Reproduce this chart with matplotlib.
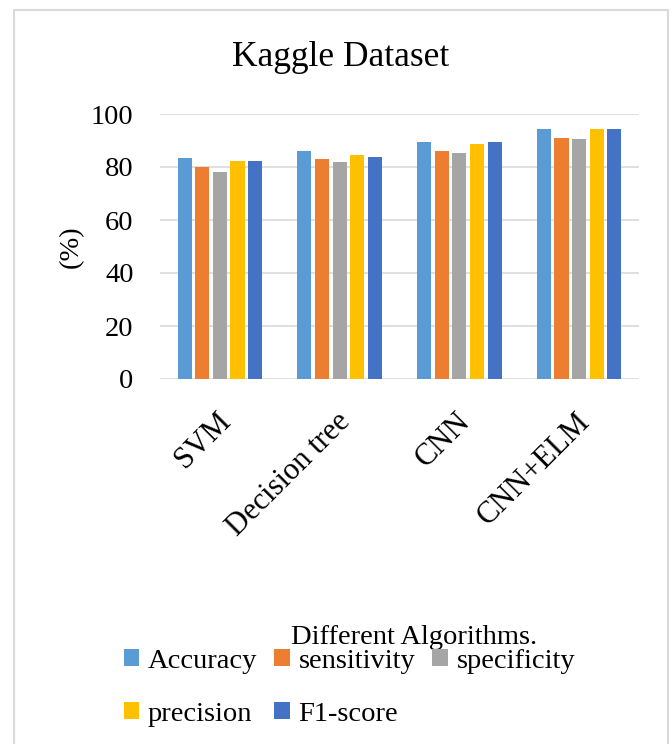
import matplotlib.pyplot as plt
import matplotlib.patches as mpatches
import matplotlib.transforms as mtransforms
import numpy as np

plt.rcParams['font.family'] = ['Liberation Serif', 'DejaVu Serif']

# Scores (%) per algorithm and metric
algorithms = ["SVM", "Decision tree", "CNN", "CNN+ELM"]
metrics = ["Accuracy", "sensitivity", "specificity", "precision", "F1-score"]
accuracy = [83.3, 86.0, 89.3, 94.2]
sensitivity = [80.1, 82.9, 86.0, 90.9]
specificity = [78.0, 81.8, 85.2, 90.4]
precision = [82.3, 84.5, 88.8, 94.2]
f1_score = [82.3, 83.9, 89.3, 94.2]
y_ticks = [0, 20, 40, 60, 80, 100]

series = [accuracy, sensitivity, specificity, precision, f1_score]
colors = ["#5B9BD5", "#ED7D31", "#A5A5A5", "#FFC000", "#4472C4"]
fs = 20.5

fig = plt.figure(figsize=(6.72, 7.44), dpi=100)
ax = fig.add_axes([160 / 672, 1 - 379 / 744, 479 / 672, 265 / 744])

# chart-area frame
fig.patches.append(mpatches.Rectangle(
    (14 / 672, -0.05), 654 / 672, 1.05 - 10 / 744,
    transform=fig.transFigure, fill=False, edgecolor="#D9D9D9", linewidth=1.5))

x = np.arange(len(algorithms))
group = 0.735
slot = group / len(series)
handles = []
for i, (vals, col) in enumerate(zip(series, colors)):
    offs = -group / 2 + slot * (i + 0.5)
    b = ax.bar(x + offs, vals, width=slot * 0.8, color=col, zorder=3, label=metrics[i])
    handles.append(b)

ax.set_xlim(-0.5, len(algorithms) - 0.5)
ax.set_ylim(0, 100)
ax.set_yticks(y_ticks)
ax.set_yticklabels([str(t) for t in y_ticks], fontsize=fs)
ax.yaxis.grid(True, color="#D9D9D9", linewidth=1.2, zorder=0)
ax.set_axisbelow(True)
for s in ax.spines.values():
    s.set_visible(False)
ax.tick_params(axis="both", length=0)
ax.tick_params(axis="y", pad=19)

ax.set_xticks(x)
ax.set_xticklabels(algorithms, fontsize=22, rotation=45, ha="right",
                   va="top", rotation_mode="anchor")
ax.tick_params(axis="x", pad=20)
shift = mtransforms.ScaledTranslation(-4 / 100, 0, fig.dpi_scale_trans)
for lbl in ax.get_xticklabels():
    lbl.set_transform(lbl.get_transform() + shift)

ax.set_ylabel("(%)", fontsize=fs, labelpad=5)

fig.text(341 / 672, 1 - 58 / 744, "Kaggle Dataset", fontsize=25.5,
         ha="center", va="center")
fig.text(414 / 672, 1 - 638 / 744, "Different Algorithms.", fontsize=fs,
         ha="center", va="center")

# legend laid out row-wise: Accuracy, sensitivity, specificity / precision, F1-score
order = [0, 3, 1, 4, 2]
fig.legend([handles[i] for i in order], [metrics[i] for i in order],
           ncol=3, loc="upper left", bbox_to_anchor=(98 / 672, 1 - 623 / 744),
           frameon=False, fontsize=fs, handlelength=0.55, handleheight=0.55,
           handletextpad=0.3, columnspacing=0.6, labelspacing=0.98)

fig.savefig("out.png", dpi=100, facecolor="white")
